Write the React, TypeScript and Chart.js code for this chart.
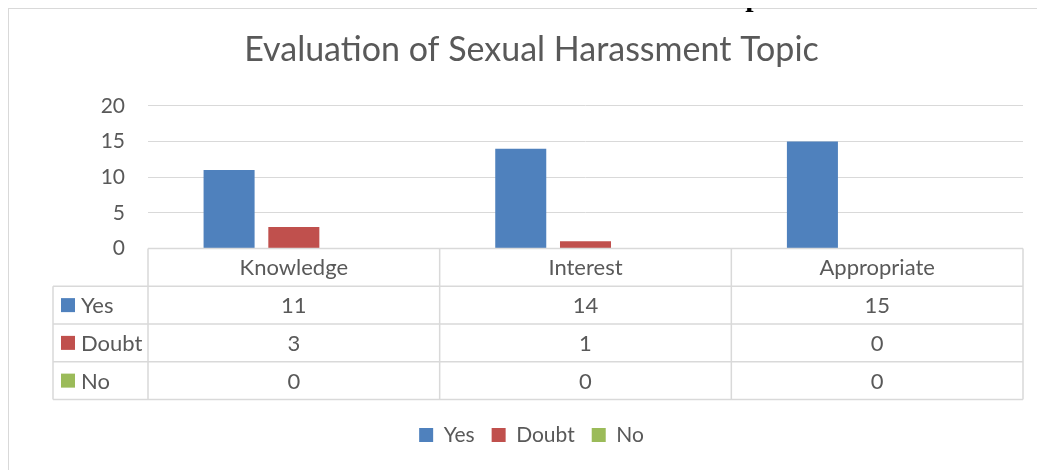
import React, { useEffect, useRef } from "react";
import { Chart, registerables } from "chart.js";

Chart.register(...registerables);

const chartTitle = "Evaluation of Sexual Harassment Topic";
const categories = ["Knowledge", "Interest", "Appropriate"];
const seriesNames = ["Yes", "Doubt", "No"];
const yesValues = [11, 14, 15];
const doubtValues = [3, 1, 0];
const noValues = [0, 0, 0];
const seriesColors = ["#4f81bd", "#c0504d", "#9bbb59"];
const yMin = 0;
const yMax = 20;
const yStep = 5;

const FONT = "Lato, 'Open Sans', sans-serif";
const TEXT = "#595959";
const LINE = "#d9d9d9";

const seriesValues = [yesValues, doubtValues, noValues];

const ROW_H = 37.75;
const LABEL_COL_LEFT = 44;

const tablePlugin = {
  id: "dataTable",
  afterDraw(chart: any) {
    const { ctx, chartArea } = chart;
    const xs = chart.scales.x;
    const top = chartArea.bottom;
    const left = chartArea.left;
    const right = chartArea.right;
    const n = categories.length;
    const colW = (right - left) / n;
    const bottom = top + ROW_H * (seriesNames.length + 1);
    ctx.save();
    ctx.strokeStyle = LINE;
    ctx.lineWidth = 1.5;
    ctx.beginPath();
    for (let r = 0; r <= seriesNames.length + 1; r++) {
      const y = top + r * ROW_H;
      ctx.moveTo(r === 0 ? left : LABEL_COL_LEFT, y);
      ctx.lineTo(right, y);
    }
    ctx.moveTo(LABEL_COL_LEFT, top + ROW_H);
    ctx.lineTo(LABEL_COL_LEFT, bottom);
    for (let i = 0; i < n; i++) {
      const c = xs.getPixelForValue(i);
      if (i === 0) {
        ctx.moveTo(c - colW / 2, top);
        ctx.lineTo(c - colW / 2, bottom);
      }
      ctx.moveTo(c + colW / 2, top);
      ctx.lineTo(c + colW / 2, bottom);
    }
    ctx.stroke();

    ctx.font = `22px ${FONT}`;
    ctx.fillStyle = TEXT;
    ctx.textBaseline = "middle";
    seriesNames.forEach((name, r) => {
      const cy = top + ROW_H * (r + 1) + ROW_H / 2;
      ctx.fillStyle = seriesColors[r];
      ctx.fillRect(LABEL_COL_LEFT + 8, cy - 7, 14, 14);
      ctx.fillStyle = TEXT;
      ctx.textAlign = "left";
      ctx.fillText(name, LABEL_COL_LEFT + 28, cy + 1);
      ctx.textAlign = "center";
      seriesValues[r].forEach((v, i) => {
        ctx.fillText(String(v), xs.getPixelForValue(i), cy + 1);
      });
    });
    ctx.restore();
  },
};

export default function App() {
  const ref = useRef<HTMLCanvasElement | null>(null);

  useEffect(() => {
    document.body.style.overflow = "hidden";
    if (!ref.current) return;
    const chart = new Chart(ref.current, {
      type: "bar",
      data: {
        labels: categories,
        datasets: seriesNames.map((name, i) => ({
          label: name,
          data: seriesValues[i],
          backgroundColor: seriesColors[i],
          borderWidth: 0,
          barPercentage: 0.788,
          categoryPercentage: 0.666,
        })),
      },
      options: {
        responsive: false,
        animation: false,
        devicePixelRatio: 1,
        layout: { padding: { left: 31, right: 22, top: 0, bottom: 14.5 } },
        plugins: {
          title: {
            display: true,
            text: chartTitle,
            color: TEXT,
            font: { family: FONT, size: 34, weight: "normal", lineHeight: 1.2 },
            padding: { top: 20.6, bottom: 35.5 },
          },
          legend: {
            position: "bottom",
            labels: {
              boxWidth: 14,
              boxHeight: 14,
              padding: 17,
              color: TEXT,
              font: { family: FONT, size: 21 },
            },
          },
          tooltip: { enabled: false },
        },
        scales: {
          x: {
            grid: { display: false, drawTicks: false },
            border: { display: false },
            ticks: {
              color: TEXT,
              font: { family: FONT, size: 22, lineHeight: 1.2 },
              padding: 5.8,
              maxRotation: 0,
            },
            afterFit(scale: any) {
              scale.height = 159;
            },
          },
          y: {
            min: yMin,
            max: yMax,
            grid: { color: LINE, lineWidth: 1, drawTicks: false },
            border: { display: false },
            ticks: {
              stepSize: yStep,
              color: TEXT,
              font: { family: FONT, size: 21 },
              padding: 23,
            },
            afterFit(scale: any) {
              scale.width = 108;
            },
          },
        },
      },
      plugins: [tablePlugin],
    });
    return () => chart.destroy();
  }, []);

  return (
    <div style={{ position: "relative" }}>
      <div
        style={{
          position: "absolute",
          left: 3,
          top: -27.5,
          width: 1040,
          textAlign: "center",
          fontFamily: "'Liberation Serif', 'Times New Roman', serif",
          fontWeight: "bold",
          fontSize: 30,
          lineHeight: "30px",
          color: "#000",
          zIndex: 2,
          whiteSpace: "nowrap",
        }}
      >
        {chartTitle}
      </div>
      <div
        style={{
          position: "relative",
          width: 1036,
          height: 461,
          borderTop: `1px solid ${LINE}`,
          borderLeft: `1px solid ${LINE}`,
        }}
      >
        <canvas ref={ref} width={1036} height={461} style={{ display: "block" }} />
      </div>
    </div>
  );
}
